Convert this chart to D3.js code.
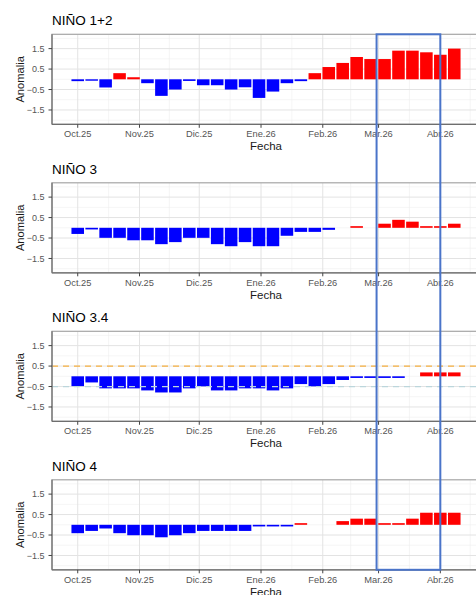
<!DOCTYPE html>
<html lang="es">
<head>
<meta charset="utf-8">
<title>Anomalias Niño</title>
<script src="https://d3js.org/d3.v7.min.js"></script>
<style>
  body { margin: 0; background: #fff; }
  svg text { font-family: "Liberation Sans", Arial, sans-serif; }
</style>
</head>
<body>
<div id="chart"></div>
<script>
// weekly anomalies (weeks centred on wednesday)
var weeks = ["2025-10-01","2025-10-08","2025-10-15","2025-10-22","2025-10-29",
  "2025-11-05","2025-11-12","2025-11-19","2025-11-26",
  "2025-12-03","2025-12-10","2025-12-17","2025-12-24","2025-12-31",
  "2026-01-07","2026-01-14","2026-01-21","2026-01-28",
  "2026-02-04","2026-02-11","2026-02-18","2026-02-25",
  "2026-03-04","2026-03-11","2026-03-18","2026-03-25",
  "2026-04-01","2026-04-08"];

var nino12 = [-0.09,-0.07,-0.40,0.30,0.10,-0.19,-0.81,-0.50,-0.08,-0.29,-0.29,-0.50,-0.39,-0.91,
  -0.60,-0.19,-0.09,0.30,0.60,0.80,1.09,0.99,0.99,1.40,1.40,1.32,1.20,1.50];
var nino3 = [-0.30,-0.08,-0.49,-0.49,-0.61,-0.61,-0.80,-0.70,-0.49,-0.49,-0.80,-0.90,-0.70,-0.90,
  -0.90,-0.39,-0.20,-0.20,-0.10,null,0.08,null,0.20,0.39,0.30,0.08,0.08,0.20];
var nino34 = [-0.48,-0.30,-0.59,-0.59,-0.59,-0.69,-0.79,-0.79,-0.59,-0.49,-0.69,-0.69,-0.59,-0.59,
  -0.69,-0.59,-0.38,-0.49,-0.38,-0.18,-0.08,-0.08,-0.08,-0.08,null,0.19,0.19,0.19];
var nino4 = [-0.41,-0.30,-0.18,-0.41,-0.51,-0.51,-0.61,-0.51,-0.41,-0.30,-0.30,-0.30,-0.30,-0.08,
  -0.08,-0.08,0.08,null,null,0.18,0.30,0.30,0.08,0.08,0.30,0.59,0.59,0.59];

var titles = ["NIÑO 1+2","NIÑO 3","NIÑO 3.4","NIÑO 4"];
var series = [nino12, nino3, nino34, nino4];

var monthTicks = ["2025-10-01","2025-11-01","2025-12-01","2026-01-01","2026-02-01","2026-03-01","2026-04-01","2026-05-01"];
var monthLabels = ["Oct.25","Nov.25","Dic.25","Ene.26","Feb.26","Mar.26","Abr.26",""];
var yTicks = [-1.5,-0.5,0.5,1.5];
var yMinor = [-2,-1,0,1,2];
var refLines = [0.5,-0.5]; // only on NIÑO 3.4
var highlight = ["2026-02-28","2026-04-01"];

var w = 476, h = 595;
var left = 52, right = 480;
var top0 = 34.3, plotH = 90, pitch = 148.5;
var day = 864e5;

var parse = d3.timeParse("%Y-%m-%d");
var dates = weeks.map(parse);
var ticks = monthTicks.map(parse);

// ggplot like limits: bar half width + 5% expansion
var half = 0.45*7*day;
var lo = +dates[0] - half, hi = +dates[dates.length-1] + half;
var pad = 0.05*(hi-lo);
var x = d3.scaleTime().domain([new Date(lo-pad), new Date(hi+pad)]).range([left, right]);

var svg = d3.select("#chart").append("svg")
  .attr("width", w).attr("height", h);

var minorX = [];
for (var i = 0; i < ticks.length-1; i++) minorX.push(new Date((+ticks[i] + +ticks[i+1])/2));

series.forEach(function(vals, p){
  var top = top0 + p*pitch, bottom = top + plotH;
  var y = d3.scaleLinear().domain([-2.2, 2.2]).range([bottom, top]);
  var g = svg.append("g");

  g.append("rect").attr("x", left).attr("y", top).attr("width", right-left).attr("height", plotH)
    .attr("fill", "#fff");

  // grid
  g.selectAll(".hmin").data(yMinor).enter().append("line")
    .attr("x1", left).attr("x2", right)
    .attr("y1", function(d){return y(d);}).attr("y2", function(d){return y(d);})
    .attr("stroke", "#efefef").attr("stroke-width", 0.6);
  g.selectAll(".vmin").data(minorX.filter(function(d){return x(d) > left && x(d) < right;})).enter().append("line")
    .attr("x1", function(d){return x(d);}).attr("x2", function(d){return x(d);})
    .attr("y1", top).attr("y2", bottom)
    .attr("stroke", "#efefef").attr("stroke-width", 0.6);
  g.selectAll(".hmaj").data(yTicks).enter().append("line")
    .attr("x1", left).attr("x2", right)
    .attr("y1", function(d){return y(d);}).attr("y2", function(d){return y(d);})
    .attr("stroke", "#e3e3e3").attr("stroke-width", 1);
  g.selectAll(".vmaj").data(ticks.filter(function(d){return x(d) < right;})).enter().append("line")
    .attr("x1", function(d){return x(d);}).attr("x2", function(d){return x(d);})
    .attr("y1", top).attr("y2", bottom)
    .attr("stroke", "#e3e3e3").attr("stroke-width", 1);

  // bars
  var rows = dates.map(function(d, i){return {date: d, v: vals[i]};})
    .filter(function(r){return r.v !== null;});
  g.selectAll(".bar").data(rows).enter().append("rect")
    .attr("x", function(d){return x(new Date(+d.date - half));})
    .attr("width", function(d){return x(new Date(+d.date + half)) - x(new Date(+d.date - half));})
    .attr("y", function(d){return y(Math.max(0, d.v));})
    .attr("height", function(d){return Math.abs(y(d.v) - y(0));})
    .attr("fill", function(d){return d.v >= 0 ? "#ff0000" : "#0000ff";});

  if (p === 2) {
    g.selectAll(".ref").data(refLines).enter().append("line")
      .attr("x1", left).attr("x2", right)
      .attr("y1", function(d){return y(d);}).attr("y2", function(d){return y(d);})
      .attr("stroke", function(d){return d > 0 ? "#f6b040" : "#bcd6dc";})
      .attr("stroke-width", 1.2).attr("stroke-dasharray", "6,5");
  }

  // border + axes
  g.append("rect").attr("x", left).attr("y", top).attr("width", right-left).attr("height", plotH)
    .attr("fill", "none").attr("stroke", "#a6a6a6").attr("stroke-width", 1.2);
  g.append("line").attr("x1", left).attr("x2", left).attr("y1", top).attr("y2", bottom)
    .attr("stroke", "#6e6e6e").attr("stroke-width", 1.2);
  g.append("line").attr("x1", left).attr("x2", right).attr("y1", bottom).attr("y2", bottom)
    .attr("stroke", "#6e6e6e").attr("stroke-width", 1.2);

  g.selectAll(".yt").data(yTicks).enter().append("line")
    .attr("x1", left-3.5).attr("x2", left)
    .attr("y1", function(d){return y(d);}).attr("y2", function(d){return y(d);})
    .attr("stroke", "#444").attr("stroke-width", 1);
  g.selectAll(".yl").data(yTicks).enter().append("text")
    .attr("x", left-7.5).attr("y", function(d){return y(d);}).attr("dy", "0.35em")
    .attr("text-anchor", "end").attr("font-size", 9).attr("fill", "#555")
    .text(function(d){return d3.format(".1f")(d);});

  var shown = ticks.filter(function(d){return x(d) < right;});
  g.selectAll(".xt").data(shown).enter().append("line")
    .attr("x1", function(d){return x(d);}).attr("x2", function(d){return x(d);})
    .attr("y1", bottom).attr("y2", bottom+3.5)
    .attr("stroke", "#444").attr("stroke-width", 1);
  g.selectAll(".xl").data(shown).enter().append("text")
    .attr("x", function(d){return x(d);}).attr("y", bottom+12.8)
    .attr("text-anchor", "middle").attr("font-size", 9.3).attr("fill", "#555")
    .text(function(d, i){return monthLabels[i];});

  g.append("text").attr("x", (left+right)/2).attr("y", bottom+26)
    .attr("text-anchor", "middle").attr("font-size", 11.5).attr("fill", "#1a1a1a")
    .text("Fecha");
  g.append("text").attr("transform", "translate(24," + (top+plotH/2) + ") rotate(-90)")
    .attr("text-anchor", "middle").attr("font-size", 11.2).attr("fill", "#1a1a1a")
    .text("Anomalia");
  g.append("text").attr("x", left).attr("y", top-9)
    .attr("font-size", 13.5).attr("fill", "#000")
    .text(titles[p]);
});

// highlighted month
var hd = highlight.map(parse);
svg.append("rect")
  .attr("x", x(hd[0])).attr("y", top0)
  .attr("width", x(hd[1]) - x(hd[0]))
  .attr("height", 3*pitch + plotH)
  .attr("fill", "none").attr("stroke", "#4a74c9").attr("stroke-width", 2);
</script>
</body>
</html>
